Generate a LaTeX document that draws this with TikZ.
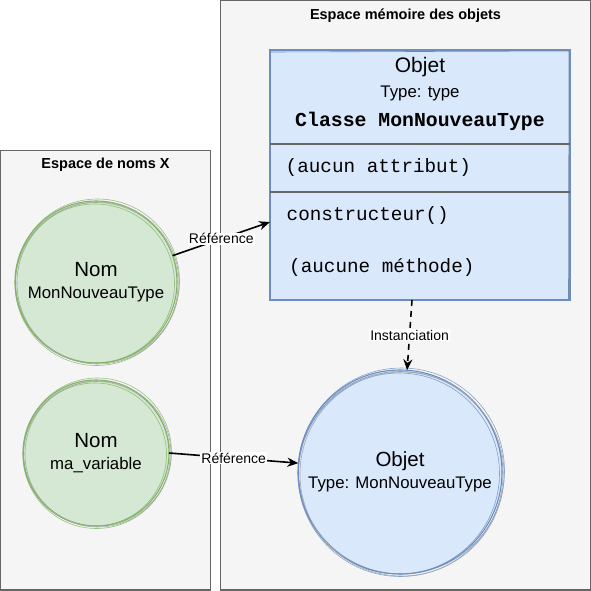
\documentclass[tikz,border=0pt]{standalone}
\usepackage{fontspec}
\setmainfont{Liberation Sans}
\setmonofont{Liberation Mono}
\usetikzlibrary{arrows.meta}
\definecolor{panelfill}{HTML}{F5F5F5}
\definecolor{paneldraw}{HTML}{666666}
\definecolor{nomfill}{HTML}{D5E8D4}
\definecolor{nomdraw}{HTML}{82B366}
\definecolor{objfill}{HTML}{DAE8FC}
\definecolor{objdraw}{HTML}{6C8EBF}
\newcommand{\fs}[1]{\fontsize{#1}{1.3\dimexpr#1pt\relax}\selectfont}

\begin{document}
\begin{tikzpicture}[x=1pt,y=-1pt,
  panel/.style={fill=panelfill, draw=paneldraw, line width=1.3pt},
  nomcircle/.style={circle, fill=nomfill, draw=nomdraw, line width=1.1pt, inner sep=0pt, outer sep=0pt, align=center, font=\fontsize{16.8}{22}\selectfont},
  objcircle/.style={circle, fill=objfill, draw=objdraw, line width=1.1pt, inner sep=0pt, outer sep=0pt, align=center, font=\fontsize{16.8}{22}\selectfont},
  reflabel/.style={fill=white, inner sep=1pt, font=\fs{14}},
  refarrow/.style={line width=1.6pt, -{Stealth[length=11pt,width=9pt]}}]
\useasboundingbox (0,0) rectangle (591,591);
%% Espaces
\draw[panel] (0.5,150.5) rectangle (210.5,590);
\draw[panel] (220.5,0.5) rectangle (590.5,590);
\node[font=\bfseries\fs{14.5}] (titreNoms) at (105.5,165) {Espace de noms X};
\node[font=\bfseries\fs{14.5}] (titreObjets) at (405.5,16) {Espace mémoire des objets};
%% Classe
\node[draw=objdraw, fill=objfill, line width=1.1pt, minimum width=300pt, minimum height=250pt, inner sep=0pt, outer sep=0pt] (classe) at (420,175) {};
\draw[objdraw!70!gray, line width=0.6pt] (271,52) -- (569,51) -- (568.5,299); %%Trait
\draw[paneldraw, line width=1.4pt] (270,144) -- (570,144);
\draw[paneldraw, line width=1.4pt] (270,192) -- (570,192);
\node[font=\fs{21}] (classeNom) at (420,67) {Objet};
\node[font=\fs{16.8}] (classeType) at (420,93) {Type: type};
\node[font=\ttfamily\bfseries\fs{19.8}] (classeTitre) at (420,121) {Classe MonNouveauType};
\node[font=\ttfamily\fs{19.3}, anchor=west, inner sep=0pt] (attributs) at (285.5,168) {(aucun attribut)};
\node[font=\ttfamily\fs{19.3}, anchor=west, inner sep=0pt] (constructeur) at (286.5,216) {constructeur()};
\node[font=\ttfamily\fs{19.3}, anchor=west, inner sep=0pt] (methodes) at (289,268) {(aucune méthode)};
%% Noms
\node[nomcircle, minimum size=162pt] (nomType) at (96,282) {{\fs{20.5}Nom}\\{MonNouveauType}};
\node[nomcircle, minimum size=146pt] (nomVar) at (96,453) {{\fs{20.5}Nom}\\{ma\_variable}};
%% Objet
\node[objcircle, minimum size=204pt] (objet) at (400,472) {{\fs{20.5}Objet}\\{Type: MonNouveauType}};
%% Traits croquis
\foreach \dx/\dy/\dr in {1.5/-1/1, -1/1.5/-1.5, 0.5/2/0.5}{
  \draw[nomdraw, line width=0.6pt, opacity=0.8] (96+\dx,282+\dy) circle (81+\dr);
  \draw[nomdraw, line width=0.6pt, opacity=0.8] (96+\dx,453+\dy) circle (73+\dr);
  \draw[objdraw, line width=0.6pt, opacity=0.8] (400+\dx,472+\dy) circle (102+\dr);
}
\draw[gray!70, line width=0.6pt] (98,283) circle (81);
\draw[gray!70, line width=0.6pt] (98,454) circle (73);
\draw[gray!70, line width=0.6pt] (402,474) circle (102);
%% Fleches
\draw[refarrow] (nomType.19) -- node[reflabel] {Référence} ([yshift=-47pt]classe.west);
\draw[refarrow] (nomVar.east) -- node[reflabel] {Référence} (objet.175.5);
\draw[refarrow, dashed, dash pattern=on 6pt off 5pt] ([xshift=-8pt]classe.south) -- node[reflabel] {Instanciation} (objet.86);
\end{tikzpicture}
\end{document}
